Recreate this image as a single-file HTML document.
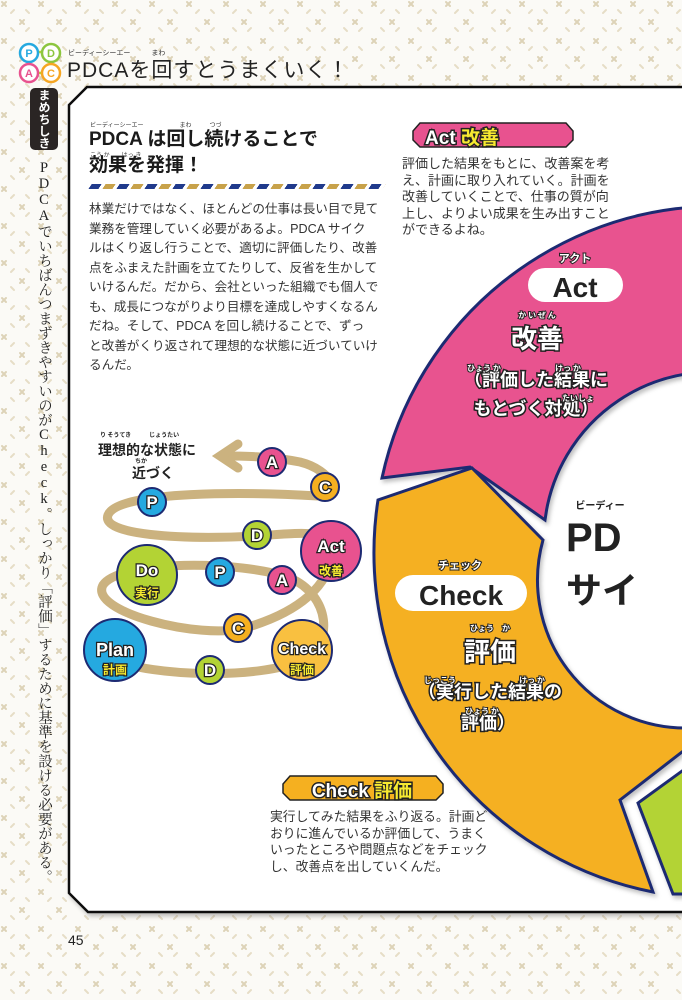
<!DOCTYPE html>
<html><head><meta charset="utf-8">
<style>
*{margin:0;padding:0;box-sizing:border-box}
body{width:682px;height:1000px;overflow:hidden;position:relative;background:#fff;font-family:"Liberation Sans","Noto Sans CJK JP",sans-serif;color:#222}
.abs{position:absolute}
.body{font-size:12.6px;color:#333;white-space:nowrap}
</style></head><body>
<svg class="abs" style="left:0;top:0" width="682" height="1000">
<defs>
<pattern id="pt" width="37" height="37" patternUnits="userSpaceOnUse">
<g stroke="#ddd3b8" stroke-width="2" stroke-linecap="round">
<path d="M2 2l4 4M6 2l-4 4"/>
<path d="M20 20l4 4M24 20l-4 4"/>
<path d="M11 13l3 -3M29 13l-3 -3M11 28l3 3M29 28l-3 3" stroke="#e6ddc6"/>
</g></pattern>
<filter id="sh" x="-5%" y="-5%" width="110%" height="110%"><feDropShadow dx="2" dy="3" stdDeviation="2" flood-color="#000" flood-opacity=".25"/></filter>
</defs>
<rect width="682" height="1000" fill="#fbfaf6"/>
<rect width="682" height="1000" fill="url(#pt)"/>
<g stroke-width="2.5" font-weight="bold" font-size="11" text-anchor="middle">
<path d="M30 52 H50 M52 56 V68 M48 73 H32 M28 68 V56" stroke="#b3d334" fill="none"/>
<circle cx="29" cy="53" r="9" fill="#fff" stroke="#25a9e0"/><text x="29" y="57" fill="#25a9e0" stroke="none">P</text>
<circle cx="51" cy="53" r="9" fill="#fff" stroke="#8cc63f"/><text x="51" y="57" fill="#8cc63f" stroke="none">D</text>
<circle cx="29" cy="73" r="9" fill="#fff" stroke="#e8528f"/><text x="29" y="77" fill="#e8528f" stroke="none">A</text>
<circle cx="51" cy="73" r="9" fill="#fff" stroke="#f5a623"/><text x="51" y="77" fill="#f5a623" stroke="none">C</text>
</g>
<path d="M87 87 H690 V912 H88 L69 893 V105 Z" fill="#fff" stroke="#111" stroke-width="2.5" filter="url(#sh)"/>
<g stroke="#1d2a72" stroke-width="3" stroke-linejoin="miter" filter="url(#sh)">
<path d="M382 478 A344 344 0 0 1 808 218 L758 378 A169 169 0 0 0 545 520 L470 467 Z" fill="#e8528f"/>
<path d="M378 500 A346 346 0 0 0 653 892 L620 800 L700 738 L686 728 A148 148 0 0 1 543 540 L472 468 Z" fill="#f5b020"/>
<path d="M638 803 L673 894 L700 894 L700 758 Z" fill="#b3d334"/>
</g>
<g fill="none" stroke="#cbb27f" stroke-width="9" stroke-linecap="round">
<path d="M115 660 C150 676 260 680 302 660 C335 645 330 595 290 578 C240 560 120 560 103 585 C88 612 200 640 245 628 C300 612 330 585 332 552 C336 528 300 533 257 536 C180 540 100 535 108 515 C118 490 250 492 318 496 C345 497 332 470 300 462 C270 456 240 456 222 456"/>
<path d="M238 444 L220 456 L238 468"/>
</g>
<g stroke="#1d2a72" stroke-width="2" font-weight="bold" text-anchor="middle" font-family="Liberation Sans,sans-serif">
<circle cx="272" cy="462" r="14" fill="#e8528f"/>
<circle cx="325" cy="487" r="14" fill="#f5b020"/>
<circle cx="152" cy="502" r="14" fill="#25a9e0"/>
<circle cx="257" cy="535" r="14" fill="#b3d334"/>
<circle cx="220" cy="572" r="14" fill="#25a9e0"/>
<circle cx="282" cy="580" r="14" fill="#e8528f"/>
<circle cx="238" cy="628" r="14" fill="#f5b020"/>
<circle cx="210" cy="670" r="14" fill="#b3d334"/>
<circle cx="331" cy="551" r="30" fill="#e8528f"/>
<circle cx="147" cy="575" r="30" fill="#b3d334"/>
<circle cx="115" cy="650" r="31" fill="#25a9e0"/>
<circle cx="302" cy="650" r="30" fill="#f9c040"/>
<g fill="#fff" stroke="#222" stroke-width="2.5" paint-order="stroke" font-size="17">
<text x="272" y="468">A</text><text x="325" y="493">C</text><text x="152" y="508">P</text><text x="257" y="541">D</text>
<text x="220" y="578">P</text><text x="282" y="586">A</text><text x="238" y="634">C</text><text x="210" y="676">D</text>
<text x="331" y="552">Act</text><text x="147" y="576">Do</text><text x="115" y="656" font-size="18">Plan</text><text x="302" y="654" font-size="16">Check</text>
</g>
<g fill="#f7ea30" stroke="#222" stroke-width="2.5" paint-order="stroke" font-size="12" font-family="Noto Sans CJK JP,sans-serif">
<text x="331" y="575">改善</text><text x="147" y="597">実行</text><text x="115" y="674">計画</text><text x="302" y="674">評価</text>
</g>
</g>
<path d="M420 123 H566 L573 131 V140 L566 147 H420 L413 140 V131 Z" fill="#e8528f" stroke="#222" stroke-width="1.5"/>
<path d="M290 776 H436 L443 784 V793 L436 800 H290 L283 793 V784 Z" fill="#f5b020" stroke="#222" stroke-width="1.5"/>
<g font-weight="bold" font-size="19" text-anchor="middle" stroke="#222" stroke-width="3" paint-order="stroke" font-family="Liberation Sans,Noto Sans CJK JP,sans-serif">
<text x="462" y="144" fill="#fff">Act <tspan fill="#f7ea30">改善</tspan></text>
<text x="362" y="797" fill="#fff">Check <tspan fill="#f7ea30">評価</tspan></text>
</g>
<rect x="528" y="268" width="95" height="34" rx="17" fill="#fff"/>
<rect x="395" y="575" width="132" height="36" rx="18" fill="#fff"/>
<g font-weight="bold" text-anchor="middle" fill="#222">
<text x="575" y="297" font-size="28">Act</text>
<text x="461" y="605" font-size="28">Check</text>
</g>
<g font-weight="bold" text-anchor="middle" fill="#fff" stroke="#222" stroke-width="3" paint-order="stroke" font-family="Noto Sans CJK JP,sans-serif">
<text x="537" y="348" font-size="26">改善</text>
<text x="536" y="386" font-size="18">（評価した結果に</text>
<text x="536" y="415" font-size="18">もとづく対処）</text>
<text x="490" y="661" font-size="26">評価</text>
<text x="490" y="698" font-size="18">（実行した結果の</text>
<text x="488" y="729" font-size="18">評価）</text>
<g font-size="8" stroke-width="2">
<text x="575" y="262" font-size="11">アクト</text>
<text x="537" y="318">か い ぜ ん</text>
<text x="484" y="371">ひょう か</text><text x="568" y="371">けっ か</text><text x="578" y="401">たいしょ</text>
<text x="460" y="569" font-size="11">チェック</text>
<text x="490" y="631">ひょう　か</text>
<text x="440" y="683">じっこう</text><text x="532" y="683">けっ か</text><text x="482" y="714">ひょう か</text>
</g>
</g>
<g font-weight="bold" fill="#222" font-family="Liberation Sans,Noto Sans CJK JP,sans-serif">
<text x="600" y="509" font-size="10" text-anchor="middle">ビーディー</text>
<text x="566" y="551" font-size="40">PD</text>
<text x="566" y="603" font-size="36" font-family="Noto Sans CJK JP,sans-serif">サイ</text>
</g>
<g font-weight="bold" fill="#222" font-size="14" font-family="Noto Sans CJK JP,sans-serif">
<text x="98" y="455">理想的な状態に</text>
<text x="132" y="478">近づく</text>
<text x="100" y="437" font-size="6">り そうてき　　　じょうたい</text>
<text x="135" y="463" font-size="6">ちか</text>
</g>
<text x="68" y="945" font-size="14" fill="#222">45</text>
</svg>
<div class="abs" style="left:90px;top:184px;width:294px;height:5px;background:repeating-linear-gradient(90deg,#203a8c 0 10px,transparent 10px 14px,#c8a24a 14px 24px,transparent 24px 28px);transform:skewX(-35deg)"></div>
<div class="abs" style="left:68px;top:48px;font-size:7px;color:#333">ビーディーシーエー　　　まわ</div>
<div class="abs" style="left:67px;top:54px;font-size:21px;color:#222;letter-spacing:1px;font-family:'Liberation Sans','Noto Sans CJK JP',sans-serif">PDCAを回すとうまくいく！</div>
<div class="abs" style="left:30px;top:88px;width:28px;height:62px;background:#2a2524;border-radius:5px;color:#fff;writing-mode:vertical-rl;font-size:12px;line-height:28px;text-align:center;font-weight:bold">まめちしき</div>
<div class="abs" style="left:33px;top:160px;width:22px;height:740px;writing-mode:vertical-rl;text-orientation:upright;font-size:14.5px;line-height:22px;color:#222;font-family:'Liberation Serif','Noto Serif CJK SC',serif">PDCAでいちばんつまずきやすいのがCheck。しっかり「評価」するために基準を設ける必要がある。</div>
<div class="abs" style="left:90px;top:120px;font-size:6px;color:#333">ビーディーシーエー　　　　　　まわ　　　つづ</div>
<div class="abs" style="left:89px;top:127px;font-size:19px;font-weight:bold;line-height:26px;color:#1a1a1a">PDCA は回し続けることで<br>効果を発揮！</div>
<div class="abs" style="left:90px;top:150px;font-size:6px;color:#333">こう か　　はっ き</div>
<div class="abs body" style="left:89px;top:200px;line-height:19.5px">林業だけではなく、ほとんどの仕事は長い目で見て<br>業務を管理していく必要があるよ。PDCA サイク<br>ルはくり返し行うことで、適切に評価したり、改善<br>点をふまえた計画を立てたりして、反省を生かして<br>いけるんだ。だから、会社といった組織でも個人で<br>も、成長につながりより目標を達成しやすくなるん<br>だね。そして、PDCA を回し続けることで、ずっ<br>と改善がくり返されて理想的な状態に近づいていけ<br>るんだ。</div>
<div class="abs body" style="left:402px;top:156px;line-height:16.5px;font-size:13px">評価した結果をもとに、改善案を考<br>え、計画に取り入れていく。計画を<br>改善していくことで、仕事の質が向<br>上し、よりよい成果を生み出すこと<br>ができるよね。</div>
<div class="abs body" style="left:270px;top:809px;line-height:16.7px;font-size:12.8px">実行してみた結果をふり返る。計画ど<br>おりに進んでいるか評価して、うまく<br>いったところや問題点などをチェック<br>し、改善点を出していくんだ。</div>
</body></html>
